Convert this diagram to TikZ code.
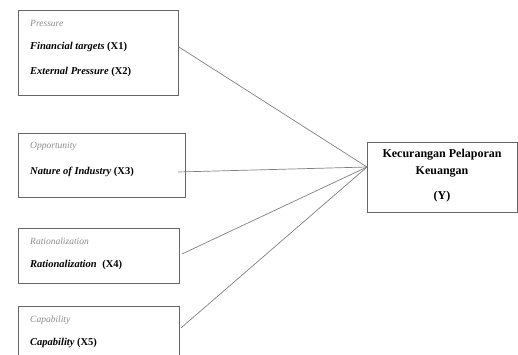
\documentclass[tikz,border=0pt]{standalone}
\usepackage{fontspec}
\setmainfont{Liberation Serif}
\usetikzlibrary{calc}
\begin{document}
\begin{tikzpicture}[x=1pt,y=-1pt,
  box/.style={draw=black!60,line width=0.9pt,anchor=north west,inner sep=0pt},
  cat/.style={anchor=west,inner sep=0pt,font=\itshape\fontsize{9.5}{11}\selectfont,text=black!45},
  var/.style={anchor=west,inner sep=0pt,font=\bfseries\itshape\fontsize{10.5}{12}\selectfont},
  link/.style={draw=black!50,line width=0.7pt}]
\useasboundingbox (0,0) rectangle (518,354);
\begin{scope}
\clip (0,0) rectangle (518,354);
\node[box,minimum width=160pt,minimum height=85pt] (b1) at (18,10) {};
\node[box,minimum width=167pt,minimum height=64pt] (b2) at (18,133) {};
\node[box,minimum width=161pt,minimum height=55pt] (b3) at (18,228) {};
\node[box,minimum width=161pt,minimum height=60pt] (b4) at (18,306) {};
\node[box,minimum width=150pt,minimum height=70pt] (y) at (367,142) {};

\node[cat] (p) at (30,23) {Pressure};
\node[var] (x1) at (30,47) {Financial targets \upshape(X1)};
\node[var] (x2) at (30,72) {External Pressure \upshape(X2)};
\node[cat] (o) at (30,146) {Opportunity};
\node[var] (x3) at (30,172) {Nature of Industry \upshape(X3)};
\node[cat] (r) at (30,241) {Rationalization};
\node[var] (x4) at (30,265) {Rationalization \;\upshape(X4)};
\node[cat] (c) at (30,320) {Capability};
\node[var] (x5) at (30,343) {Capability \upshape(X5)};

\node[font=\bfseries\fontsize{12}{17}\selectfont,align=center,inner sep=0pt] (yt) at (442,163) {Kecurangan Pelaporan\\Keuangan};
\node[font=\bfseries\fontsize{12}{12}\selectfont,inner sep=0pt] (yy) at (442,197) {(Y)};

\coordinate (hub) at (367,167);
\draw[link] ($(b1.north east)+(0,37)$) -- (hub);
\draw[link] ($(b2.north west)+(160,39)$) -- (hub);
\draw[link] ($(b3.north east)+(2,26)$) -- (hub);
\draw[link] ($(b4.north east)+(1,22)$) -- (hub);
\end{scope}
\end{tikzpicture}
\end{document}
